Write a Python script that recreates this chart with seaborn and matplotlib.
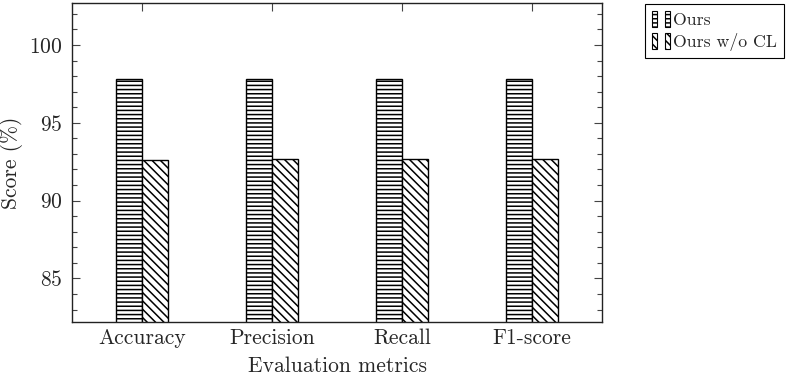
import matplotlib
matplotlib.use("Agg")
import matplotlib.pyplot as plt
import pandas as pd
import seaborn as sns
from matplotlib.patches import Patch
from matplotlib.legend_handler import HandlerTuple
from matplotlib.ticker import MultipleLocator

metrics = ["Accuracy", "Precision", "Recall", "F1-score"]
ours = [97.8, 97.8, 97.8, 97.8]
ours_wo_cl = [92.6, 92.7, 92.7, 92.7]
series_names = ["Ours", "Ours w/o CL"]
hatches = ["----", "\\\\\\\\"]

sns.set_style("ticks")
plt.rcParams["font.family"] = ["cmr10", "DejaVu Serif"]
plt.rcParams["mathtext.fontset"] = "cm"
plt.rcParams["axes.formatter.use_mathtext"] = True
plt.rcParams["hatch.linewidth"] = 1.1
plt.rcParams["hatch.color"] = "black"

df = pd.DataFrame({
    "metric": metrics * 2,
    "score": ours + ours_wo_cl,
    "model": [series_names[0]] * len(metrics) + [series_names[1]] * len(metrics),
})

fig = plt.figure(figsize=(7.87, 3.77), dpi=100)
ax = fig.add_axes([0.0915, 0.146, 0.6735, 0.846])

sns.barplot(data=df, x="metric", y="score", hue="model", order=metrics,
            hue_order=series_names, width=0.4, palette=["white", "white"],
            edgecolor="black", linewidth=1.0, legend=False, ax=ax)

for cont, h in zip(ax.containers, hatches):
    for bar in cont:
        bar.set_hatch(h)

ax.set_xlim(-0.538, 3.538)
ax.set_ylim(82.2, 102.7)
ax.yaxis.set_major_locator(MultipleLocator(5))
ax.yaxis.set_minor_locator(MultipleLocator(1))
ax.tick_params(axis="both", direction="in", top=True, right=True,
               labelsize=15.5, color="#444444", width=0.8)
ax.tick_params(axis="y", which="major", length=6, pad=7)
ax.tick_params(axis="y", which="minor", length=3.5, direction="in",
               right=True, color="#444444", width=0.8)
ax.tick_params(axis="x", which="major", length=6, pad=5)
for sp in ax.spines.values():
    sp.set_linewidth(1.0)
    sp.set_color("#222222")

ax.set_xlabel("Evaluation metrics", fontsize=15.5, labelpad=6)
ax.set_ylabel("Score (%)", fontsize=15.5)
ax.yaxis.set_label_coords(-0.092, 0.5)

handles = []
for h in hatches:
    p1 = Patch(facecolor="white", edgecolor="black", hatch=h, linewidth=0.8)
    p2 = Patch(facecolor="white", edgecolor="black", hatch=h, linewidth=0.8)
    handles.append((p1, p2))
leg = fig.legend(handles, series_names, loc="upper left",
                 bbox_to_anchor=(0.8196, 0.99), fontsize=12.8,
                 handler_map={tuple: HandlerTuple(ndivide=None, pad=0.5)},
                 handlelength=1.0, handleheight=1.0, handletextpad=0.15,
                 fancybox=False, edgecolor="black", framealpha=1,
                 borderpad=0.4, labelspacing=0.3, borderaxespad=0)
leg.get_frame().set_linewidth(0.8)

fig.savefig("out.png", dpi=100)
